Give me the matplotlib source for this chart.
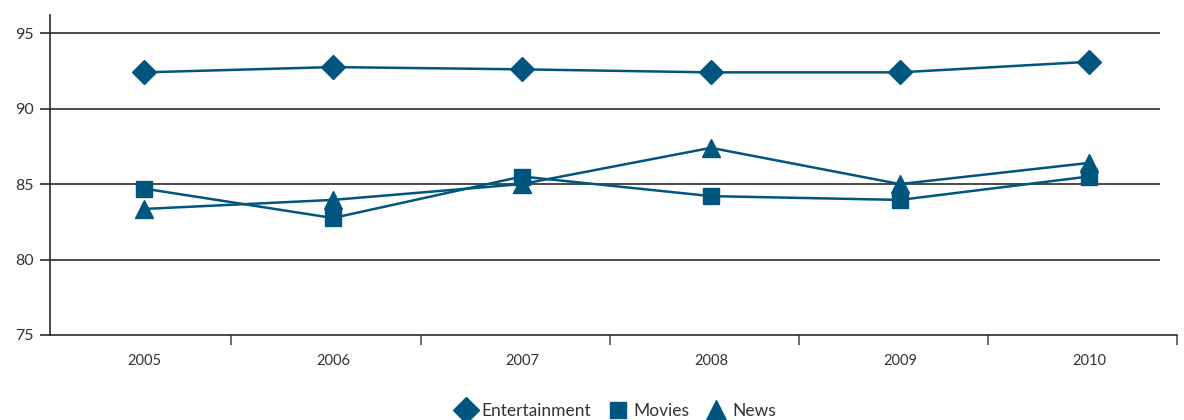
import matplotlib
matplotlib.use("Agg")
import matplotlib.pyplot as plt

plt.rcParams['font.family'] = ['Lato', 'DejaVu Sans']

years = ['2005', '2006', '2007', '2008', '2009', '2010']
entertainment = [92.4, 92.75, 92.6, 92.4, 92.4, 93.1]
movies = [84.7, 82.75, 85.5, 84.2, 83.95, 85.5]
news = [83.35, 83.95, 85.0, 87.4, 85.0, 86.4]
y_ticks = [75, 80, 85, 90, 95]

blue = '#00567f'
grid_col = '#2b2b2b'

fig = plt.figure(figsize=(11.84, 4.2), dpi=100)
ax = fig.add_axes([50 / 1184, 1 - 335 / 420, 1127 / 1184, 320 / 420])

x = list(range(len(years)))
ax.set_xlim(-0.497, 5.466)
ax.set_ylim(75, 96.2)

# horizontal rules stop short of the right end of the x axis
ax.hlines(y_ticks[1:], -0.497, 5.376, color=grid_col, lw=1.2, zorder=1)

ax.plot(x, entertainment, color=blue, lw=1.8, marker='D', ms=12.5,
        label='Entertainment', zorder=3)
ax.plot(x, movies, color=blue, lw=1.8, marker='s', ms=11.5,
        label='Movies', zorder=3)
ax.plot(x, news, color=blue, lw=1.8, marker='^', ms=13.5,
        label='News', zorder=3)

for side in ['top', 'right']:
    ax.spines[side].set_visible(False)
for side in ['left', 'bottom']:
    ax.spines[side].set_color(grid_col)
    ax.spines[side].set_linewidth(1.2)

ax.set_yticks(y_ticks)
ax.set_yticklabels([str(v) for v in y_ticks])
ax.tick_params(axis='y', direction='out', length=7.5, width=1.2,
               color=grid_col, labelsize=11.5, labelcolor='#333333', pad=4)

ax.set_xticks(x)
ax.set_xticklabels(years)
ax.set_xticks([0.46, 1.466, 2.466, 3.466, 4.466, 5.466], minor=True)
ax.tick_params(axis='x', which='major', length=0, labelsize=10.5,
               labelcolor='#333333', pad=14)
ax.tick_params(axis='x', which='minor', direction='out', length=7.5,
               width=1.2, color='#555555')

handles, labels = ax.get_legend_handles_labels()
leg = fig.legend(handles, labels, loc='center',
                 bbox_to_anchor=(616 / 1184, 1 - 411 / 420), ncol=3,
                 frameon=False, fontsize=12.5, handlelength=1.1,
                 handletextpad=0.35, columnspacing=1.0, borderpad=0,
                 markerscale=1.05)
for line in leg.get_lines():
    line.set_linestyle('None')
for t in leg.get_texts():
    t.set_color('#333333')

fig.savefig('out.png', dpi=100)
